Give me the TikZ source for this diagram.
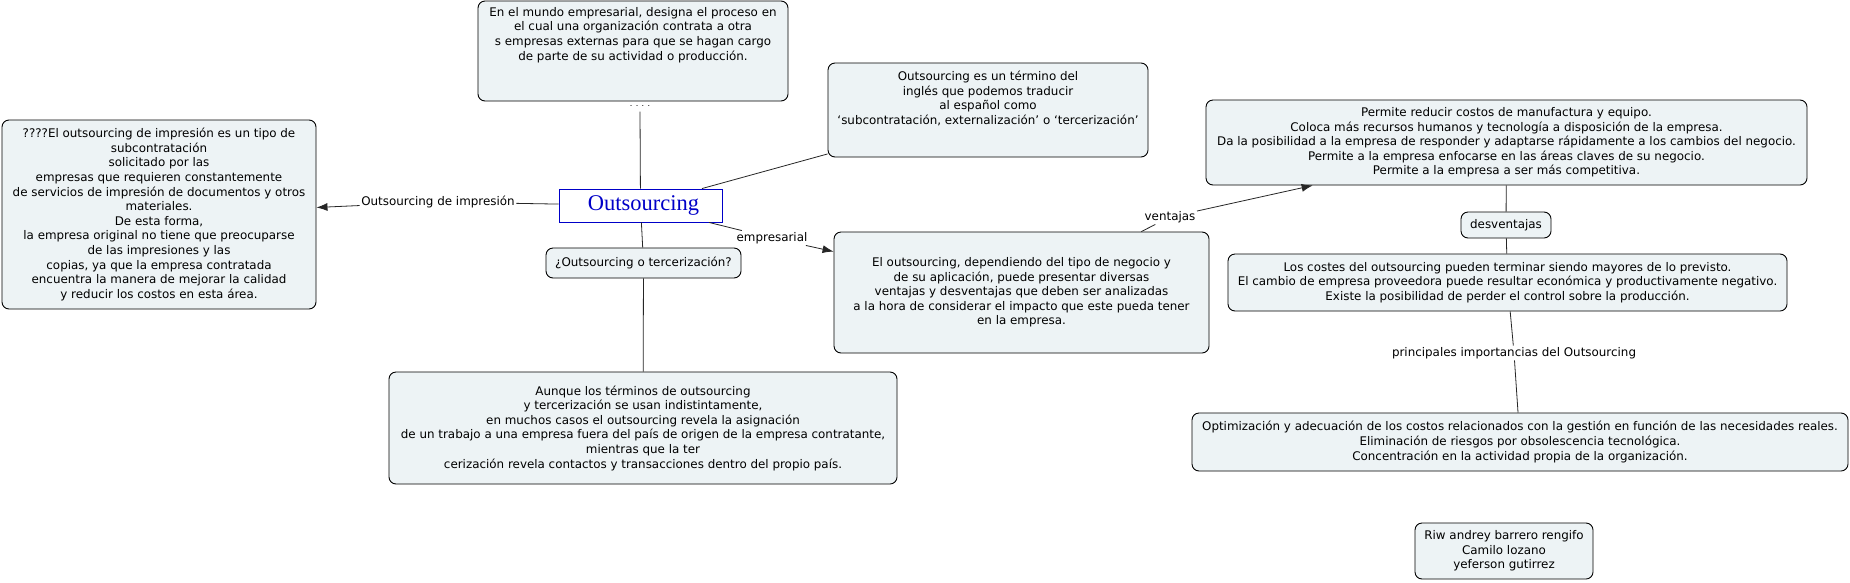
\documentclass[tikz,border=0pt]{standalone}
\usepackage{fontspec}
\setmainfont{DejaVu Sans}
\newfontfamily\serifblue{Liberation Serif}
\usetikzlibrary{arrows.meta}
\definecolor{boxfill}{RGB}{237,243,245}
\definecolor{centerblue}{RGB}{0,0,200}
\newcommand{\mapfont}{\fontsize{11.9}{14.6}\selectfont}
\tikzset{
  cbox/.style={draw=black, fill=boxfill, rounded corners=7pt, line width=0.9pt, inner sep=3pt, align=center, font=\mapfont},
  btext/.style={align=center, inner sep=0pt, font=\mapfont},
  lbl/.style={fill=white, inner sep=1.5pt, font=\mapfont},
  conn/.style={draw=black!85, line width=0.8pt},
  arr/.style={conn, -{Latex[length=11pt,width=8pt]}},
}
\begin{document}
\begin{tikzpicture}[x=1pt,y=-1pt]
\useasboundingbox[fill=white] (0,0) rectangle (1850,582);

% boxes
\node[cbox, minimum width=310, minimum height=100] (top) at (633,51) {};
\node[btext, anchor=north] (toptext) at (633,7) {En el mundo empresarial, designa el proceso en\\el cual una organización contrata a otra\\s empresas externas para que se hagan cargo\\de parte de su actividad o producción.};

\node[cbox, minimum width=320, minimum height=94] (term) at (988,110) {};
\node[btext, anchor=north] (termtext) at (988,71) {Outsourcing es un término del\\inglés que podemos traducir\\al español como\\‘subcontratación, externalización’ o ‘tercerización’};

\node[cbox, minimum width=314, minimum height=189] (impr) at (159,214.5) {????El outsourcing de impresión es un tipo de\\subcontratación\\solicitado por las\\empresas que requieren constantemente\\de servicios de impresión de documentos y otros\\materiales.\\De esta forma,\\la empresa original no tiene que preocuparse\\de las impresiones y las\\copias, ya que la empresa contratada\\encuentra la manera de mejorar la calidad\\y reducir los costos en esta área.};

\node[draw=centerblue, fill=white, line width=0.9pt, minimum width=163, minimum height=33, inner sep=0pt, text=centerblue, font=\serifblue\fontsize{22.5}{25}\selectfont] (out) at (640.5,205.5) {\hspace{6pt}Outsourcing};

\node[cbox, minimum width=195, minimum height=30] (quest) at (643.5,263) {¿Outsourcing o tercerización?};

\node[cbox, minimum width=508, minimum height=112] (aunque) at (643,428) {Aunque los términos de outsourcing\\y tercerización se usan indistintamente,\\en muchos casos el outsourcing revela la asignación\\de un trabajo a una empresa fuera del país de origen de la empresa contratante,\\mientras que la ter\\cerización revela contactos y transacciones dentro del propio país.};

\node[cbox, minimum width=375, minimum height=121] (depend) at (1021.5,292.5) {El outsourcing, dependiendo del tipo de negocio y\\de su aplicación, puede presentar diversas\\ventajas y desventajas que deben ser analizadas\\a la hora de considerar el impacto que este pueda tener\\en la empresa.};

\node[cbox, minimum width=601, minimum height=85] (permite) at (1506.5,142.5) {Permite reducir costos de manufactura y equipo.\\Coloca más recursos humanos y tecnología a disposición de la empresa.\\Da la posibilidad a la empresa de responder y adaptarse rápidamente a los cambios del negocio.\\Permite a la empresa enfocarse en las áreas claves de su negocio.\\Permite a la empresa a ser más competitiva.};

\node[cbox, minimum width=90, minimum height=26] (desv) at (1506,225) {desventajas};

\node[cbox, minimum width=559, minimum height=57] (costes) at (1507.5,282.5) {Los costes del outsourcing pueden terminar siendo mayores de lo previsto.\\El cambio de empresa proveedora puede resultar económica y productivamente negativo.\\Existe la posibilidad de perder el control sobre la producción.};

\node[cbox, minimum width=656, minimum height=58] (optim) at (1520,442) {Optimización y adecuación de los costos relacionados con la gestión en función de las necesidades reales.\\Eliminación de riesgos por obsolescencia tecnológica.\\Concentración en la actividad propia de la organización.};

\node[cbox, minimum width=178, minimum height=56] (riw) at (1504,551) {Riw andrey barrero rengifo\\Camilo lozano\\yeferson gutirrez};

% link labels
\node[inner sep=1pt, font=\fontsize{8}{9}\selectfont] (dots) at (640,106) {. . . .};
\node[lbl] (limpr) at (438,202) {Outsourcing de impresión};
\node[lbl] (lemp) at (772,238) {empresarial};
\node[lbl] (lvent) at (1170,217) {ventajas};
\node[lbl] (lprin) at (1514,353) {principales importancias del Outsourcing};

% connectors
\draw[conn] ([yshift=-4pt]dots.south) -- (out);
\draw[conn] (out) -- (term);
\draw[conn] (out) -- (limpr);
\draw[arr] (limpr) -- (impr);
\draw[conn] (out) -- (quest);
\draw[conn] (quest) -- (aunque);
\draw[conn] (out) -- (lemp);
\draw[arr] (lemp) -- (depend);
\draw[conn] (depend) -- (lvent);
\draw[arr] (lvent) -- (permite);
\draw[conn] (permite) -- (desv);
\draw[conn] (desv) -- (costes);
\draw[conn] (costes) -- (lprin);
\draw[conn] (lprin) -- (optim);
\end{tikzpicture}
\end{document}
